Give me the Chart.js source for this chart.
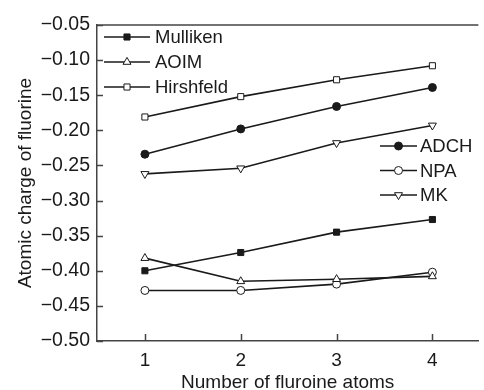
<!DOCTYPE html>
<html>
<head>
<meta charset="utf-8">
<script src="https://cdn.jsdelivr.net/npm/chart.js@4.4.0/dist/chart.umd.min.js"></script>
<style>
  html, body { margin: 0; padding: 0; background: #fff; }
  #wrap { width: 484px; height: 390px; }
</style>
</head>
<body>
<div id="wrap"><canvas id="chart"></canvas></div>
<script>
// number of F atoms on the x axis
const atoms = [1, 2, 3, 4];

// atomic charge of fluorine
const mulliken = [-0.400, -0.374, -0.345, -0.327];
const aoim = [-0.382, -0.415, -0.412, -0.408];
const hirshfeld = [-0.181, -0.152, -0.128, -0.108];
const adch = [-0.234, -0.198, -0.166, -0.139];
const npa = [-0.428, -0.428, -0.419, -0.402];
const mk = [-0.262, -0.254, -0.218, -0.193];

const yTicks = [-0.05, -0.10, -0.15, -0.20, -0.25, -0.30, -0.35, -0.40, -0.45, -0.50];

const ink = '#1a1a1a';
const axisInk = '#444';
const fontFamily = '"Liberation Sans", Arial, Helvetica, sans-serif';

const toPoints = (vals) => vals.map((v, i) => ({ x: atoms[i], y: v }));

const series = [
  { label: 'Mulliken', data: mulliken, style: 'rect', fill: ink, r: 4.3, rot: 0, group: 0 },
  { label: 'AOIM', data: aoim, style: 'triangle', fill: '#fff', r: 4.6, rot: 0, group: 0 },
  { label: 'Hirshfeld', data: hirshfeld, style: 'rect', fill: '#fff', r: 4.3, rot: 0, group: 0 },
  { label: 'ADCH', data: adch, style: 'circle', fill: ink, r: 4, rot: 0, group: 1 },
  { label: 'NPA', data: npa, style: 'circle', fill: '#fff', r: 4, rot: 0, group: 1 },
  { label: 'MK', data: mk, style: 'triangle', fill: '#fff', r: 4.6, rot: 180, group: 1 },
];

// inward tick marks + top frame line
const frame = {
  id: 'frame',
  afterDraw(chart) {
    const { ctx, chartArea: a, scales } = chart;
    ctx.save();
    ctx.strokeStyle = axisInk;
    ctx.lineWidth = 1.5;
    ctx.beginPath();
    ctx.moveTo(a.left, a.top);
    ctx.lineTo(a.right, a.top);
    scales.y.ticks.forEach((t) => {
      const py = Math.round(scales.y.getPixelForValue(t.value)) + 0.5;
      ctx.moveTo(a.left, py);
      ctx.lineTo(a.left + 6, py);
    });
    scales.x.ticks.forEach((t) => {
      const px = Math.round(scales.x.getPixelForValue(t.value)) + 0.5;
      ctx.moveTo(px, a.bottom);
      ctx.lineTo(px, a.bottom - 7);
    });
    ctx.stroke();
    ctx.restore();
  },
};

// two separate legend blocks, as in the figure
const splitLegend = {
  id: 'splitLegend',
  afterDatasetsDraw(chart) {
    const { ctx, chartArea: a } = chart;
    const blocks = [
      { x: a.left + 7, y: a.top + 12, len: 46, gap: 5 },
      { x: a.left + 283, y: a.top + 121, len: 37, gap: 3 },
    ];
    const rowH = [25, 24.5];
    const count = [0, 0];
    ctx.save();
    ctx.font = '18.5px ' + fontFamily;
    ctx.textBaseline = 'middle';
    chart.data.datasets.forEach((ds) => {
      const g = ds.group;
      const b = blocks[g];
      const y = b.y + count[g] * rowH[g];
      count[g]++;
      ctx.strokeStyle = ink;
      ctx.lineWidth = 1.6;
      ctx.beginPath();
      ctx.moveTo(b.x, y);
      ctx.lineTo(b.x + b.len, y);
      ctx.stroke();
      ctx.fillStyle = ds.pointBackgroundColor;
      ctx.strokeStyle = ink;
      ctx.lineWidth = 1;
      Chart.helpers.drawPoint(ctx, {
        pointStyle: ds.pointStyle,
        rotation: ds.pointRotation,
        radius: ds.pointRadius,
        borderWidth: 1,
      }, b.x + b.len / 2, y);
      ctx.fillStyle = ink;
      ctx.fillText(ds.label, b.x + b.len + b.gap, y + 1);
    });
    ctx.restore();
  },
};

new Chart(document.getElementById('chart'), {
  type: 'line',
  data: {
    datasets: series.map((s) => ({
      label: s.label,
      group: s.group,
      data: toPoints(s.data),
      borderColor: ink,
      borderWidth: 1.6,
      pointStyle: s.style,
      pointRotation: s.rot,
      pointRadius: s.r,
      pointBackgroundColor: s.fill,
      pointBorderColor: ink,
      pointBorderWidth: 1,
      tension: 0,
    })),
  },
  options: {
    responsive: true,
    maintainAspectRatio: false,
    animation: false,
    layout: { padding: { top: 25, right: 0, bottom: 0, left: 0 } },
    plugins: {
      legend: { display: false },
      tooltip: { enabled: false },
    },
    scales: {
      x: {
        type: 'linear',
        min: 0.5,
        max: 4.48,
        afterBuildTicks: (scale) => {
          scale.ticks = atoms.map((v) => ({ value: v }));
        },
        afterFit: (scale) => { scale.height = 49; },
        grid: { display: false, drawTicks: false },
        border: { display: true, color: axisInk, width: 1.5 },
        ticks: {
          color: ink,
          padding: 8,
          font: { family: fontFamily, size: 19 },
          callback: (v) => String(v),
        },
        title: {
          display: true,
          text: 'Number of fluroine atoms',
          color: ink,
          font: { family: fontFamily, size: 19, lineHeight: 0.8 },
          padding: { top: 0, bottom: 0 },
        },
      },
      y: {
        min: -0.5,
        max: -0.05,
        afterBuildTicks: (scale) => {
          scale.ticks = yTicks.map((v) => ({ value: v }));
        },
        afterFit: (scale) => { scale.width = 97; },
        grid: { display: false, drawTicks: false },
        border: { display: true, color: axisInk, width: 1.5 },
        ticks: {
          color: ink,
          padding: 7,
          font: { family: fontFamily, size: 19.5 },
          callback: (v) => '\u2212' + Math.abs(v).toFixed(2),
        },
        title: {
          display: true,
          text: 'Atomic charge of fluorine',
          color: ink,
          font: { family: fontFamily, size: 19, lineHeight: 1 },
          padding: { top: 16, bottom: 0 },
        },
      },
    },
  },
  plugins: [frame, splitLegend],
});
</script>
</body>
</html>
